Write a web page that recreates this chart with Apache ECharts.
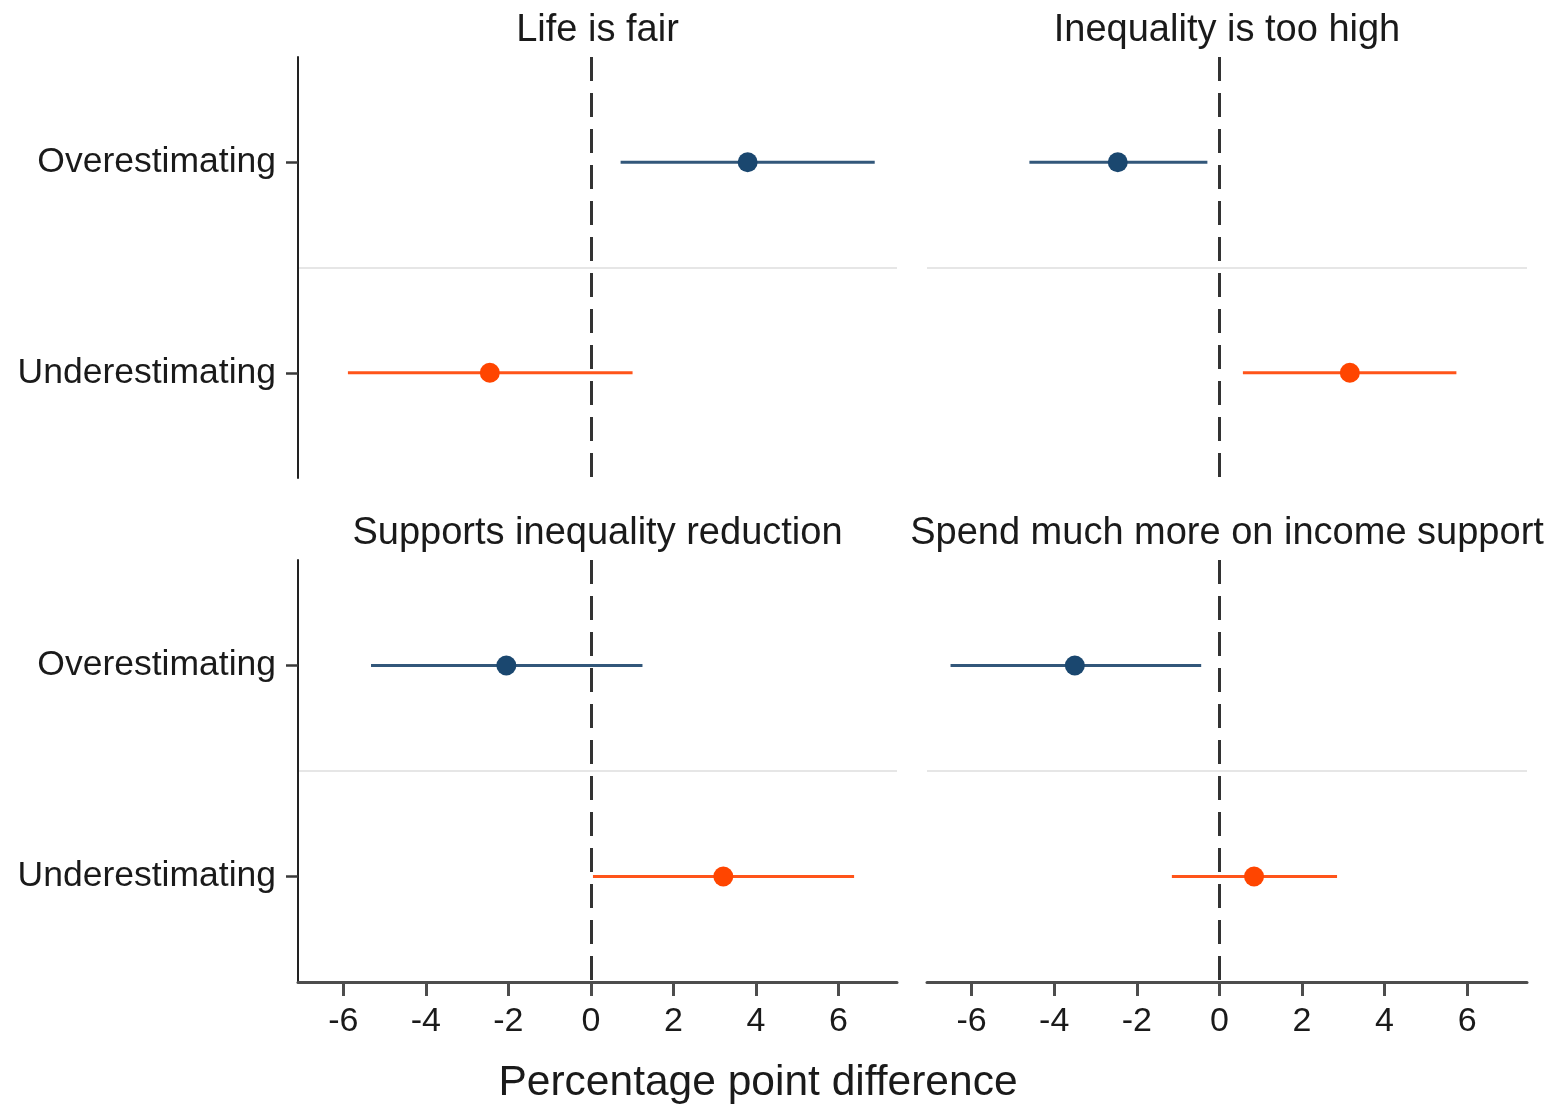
<!DOCTYPE html>
<html>
<head>
<meta charset="utf-8">
<title>Percentage point difference by perception group</title>
<script src="https://cdn.jsdelivr.net/npm/echarts@6/dist/echarts.min.js"></script>
<style>
  html, body { margin: 0; padding: 0; background: #ffffff; }
  #chart { width: 1553px; height: 1104px; }
</style>
</head>
<body>
<div id="chart"></div>
<script>
// Panel titles and the two perception groups shown in every panel
const panelTitles = [
  'Life is fair',
  'Inequality is too high',
  'Supports inequality reduction',
  'Spend much more on income support'
];
const groups = ['Overestimating', 'Underestimating'];

// Point estimates per panel: [Overestimating, Underestimating]
const estimates = [
  [3.80, -2.45],
  [-2.46, 3.16],
  [-2.05, 3.21],
  [-3.50, 0.84]
];
// Lower and upper confidence bounds per panel
const lowerBounds = [
  [0.72, -5.89],
  [-4.60, 0.57],
  [-5.33, 0.05],
  [-6.51, -1.15]
];
const upperBounds = [
  [6.88, 1.01],
  [-0.29, 5.74],
  [1.25, 6.38],
  [-0.44, 2.85]
];
const xTicks = [-6, -4, -2, 0, 2, 4, 6];
const xTitle = 'Percentage point difference';

const FONT = "'Liberation Sans', Arial, Helvetica, sans-serif";
const groupPointColors = ['#1a476f', '#ff4500'];
const groupLineColors = ['#32577a', '#ff541a'];

const grids = [
  { left: 298, top: 57, width: 599, height: 421 },
  { left: 927, top: 57, width: 600, height: 421 },
  { left: 298, top: 560, width: 599, height: 422 },
  { left: 927, top: 560, width: 600, height: 422 }
];
const xRanges = [[-7.1, 7.42], [-7.08, 7.45], [-7.1, 7.42], [-7.08, 7.45]];

const chart = echarts.init(document.getElementById('chart'), null, { renderer: 'canvas' });

const xAxes = [], yAxes = [], series = [], titles = [];

grids.forEach((g, i) => {
  const isBottom = i >= 2;
  const isLeft = i % 2 === 0;

  xAxes.push({
    type: 'value',
    gridIndex: i,
    min: xRanges[i][0],
    max: xRanges[i][1],
    show: isBottom,
    axisLine: { show: isBottom, onZero: false, lineStyle: { color: '#4d4d4d', width: 3 } },
    axisTick: {
      show: isBottom, length: 14, customValues: xTicks,
      lineStyle: { color: '#4d4d4d', width: 3 }
    },
    axisLabel: {
      show: isBottom, customValues: xTicks, margin: 23,
      color: '#1a1a1a', fontSize: 34, fontFamily: FONT
    },
    splitLine: { show: false }
  });

  yAxes.push({
    type: 'category',
    gridIndex: i,
    data: groups,
    inverse: true,
    axisLine: { show: isLeft, onZero: false, lineStyle: { color: '#222222', width: 2 } },
    axisTick: {
      show: isLeft, alignWithLabel: true, length: 12,
      lineStyle: { color: '#3a3a3a', width: 2.5 }
    },
    axisLabel: {
      show: isLeft, margin: 22,
      color: '#1a1a1a', fontSize: 35.5, fontFamily: FONT
    },
    splitLine: {
      show: true,
      lineStyle: { color: ['rgba(0,0,0,0)', '#e6e6e6'], width: 2 }
    }
  });

  titles.push({
    text: panelTitles[i],
    left: g.left + g.width / 2,
    top: isBottom ? 515 : 12,
    textAlign: 'center',
    padding: 0,
    textStyle: { fontSize: 38, fontWeight: 'normal', color: '#1a1a1a', fontFamily: FONT }
  });

  // Confidence interval segments
  series.push({
    type: 'custom',
    xAxisIndex: i,
    yAxisIndex: i,
    z: 2,
    silent: true,
    data: groups.map((_, k) => [lowerBounds[i][k], upperBounds[i][k], k]),
    encode: { x: [0, 1], y: 2 },
    renderItem: function (params, api) {
      const k = api.value(2);
      const p0 = api.coord([api.value(0), k]);
      const p1 = api.coord([api.value(1), k]);
      return {
        type: 'line',
        shape: { x1: p0[0], y1: p0[1], x2: p1[0], y2: p1[1] },
        style: { stroke: groupLineColors[k], lineWidth: 3 }
      };
    }
  });

  // Reference line at zero
  series.push({
    type: 'line',
    xAxisIndex: i,
    yAxisIndex: i,
    z: 3,
    data: [],
    markLine: {
      silent: true,
      symbol: 'none',
      label: { show: false },
      lineStyle: { color: '#333333', width: 3, type: [24, 12] },
      data: [{ xAxis: 0 }]
    }
  });

  // Point estimates
  series.push({
    type: 'scatter',
    xAxisIndex: i,
    yAxisIndex: i,
    z: 4,
    silent: true,
    symbol: 'circle',
    symbolSize: 20,
    data: groups.map((name, k) => ({
      value: [estimates[i][k], name],
      itemStyle: { color: groupPointColors[k], opacity: 1 }
    }))
  });
});

titles.push({
  text: xTitle,
  left: 758,
  top: 1062,
  textAlign: 'center',
  padding: 0,
  textStyle: { fontSize: 42.5, fontWeight: 'normal', color: '#1a1a1a', fontFamily: FONT }
});

chart.setOption({
  animation: false,
  backgroundColor: '#ffffff',
  title: titles,
  grid: grids,
  xAxis: xAxes,
  yAxis: yAxes,
  series: series
});
</script>
</body>
</html>
